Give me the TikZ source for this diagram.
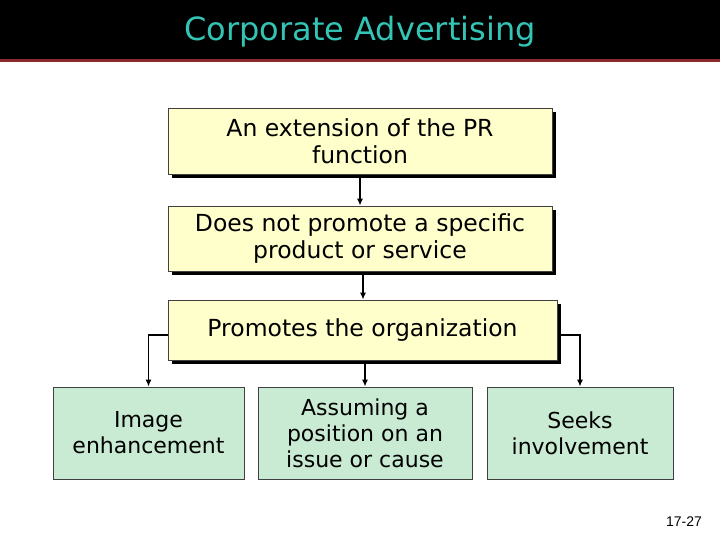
\documentclass[tikz,border=0pt]{standalone}
\usepackage{fontspec}
\setmainfont{DejaVu Sans}
\newfontfamily\pgnum{Liberation Sans}
\usetikzlibrary{arrows.meta,shadows}
\definecolor{titlecyan}{HTML}{33C4B6}
\definecolor{redline}{HTML}{8B2A2A}
\definecolor{yelfill}{HTML}{FFFFCC}
\definecolor{grnfill}{HTML}{C9EBD3}
\definecolor{boxedge}{HTML}{404040}
\tikzset{
  ybox/.style={draw=boxedge, line width=0.8pt, fill=yelfill, align=center,
    font=\fontsize{23.5}{27.5}\selectfont, inner sep=0pt,
    drop shadow={shadow xshift=4pt, shadow yshift=-4pt, fill=black, opacity=1}},
  gbox/.style={draw=boxedge, line width=0.8pt, fill=grnfill, align=center,
    font=\fontsize{22}{26}\selectfont, inner sep=0pt},
  arr/.style={line width=1.3pt, -{Latex[length=7pt,width=6pt]}}
}
\begin{document}
\begin{tikzpicture}[x=1pt,y=-1pt]
\useasboundingbox (0,0) rectangle (720,540);
\fill[black] (0,0) rectangle (720,59);
\fill[redline] (0,59) rectangle (720,62);
\node[text=titlecyan, font=\fontsize{32}{36}\selectfont] (title) at (360,32) {Corporate Advertising};

\node[ybox, minimum width=384pt, minimum height=66pt] (b1) at (360,141) {An extension of the PR\\function};
\node[ybox, minimum width=384pt, minimum height=65pt] (b2) at (360,238.5) {Does not promote a specific\\product or service};
\node[ybox, minimum width=389pt, minimum height=60pt] (b3) at (362.5,330) {Promotes the organization};

\node[gbox, minimum width=191pt, minimum height=92pt] (bA) at (148.5,433) {Image\\enhancement};
\node[gbox, minimum width=214pt, minimum height=92pt] (bB) at (365,433) {Assuming a\\position on an\\issue or cause};
\node[gbox, minimum width=186pt, minimum height=92pt] (bC) at (580,433) {Seeks\\involvement};

\draw[arr] ([yshift=-4pt]b1.south) -- (b2.north);
\draw[arr] ([xshift=3pt,yshift=-4pt]b2.south) -- ([xshift=3pt]b2.south |- b3.north);
\draw[arr] ([yshift=-5pt]b3.west) -| (bA.north);
\draw[arr] ([xshift=4pt,yshift=-5pt]b3.east) -| (bC.north);
\draw[arr] ([yshift=-4pt]b3.south -| bB.north) -- (bB.north);

\node[font=\pgnum\fontsize{14}{16}\selectfont] (pg) at (684,522) {17-27};
\end{tikzpicture}
\end{document}
